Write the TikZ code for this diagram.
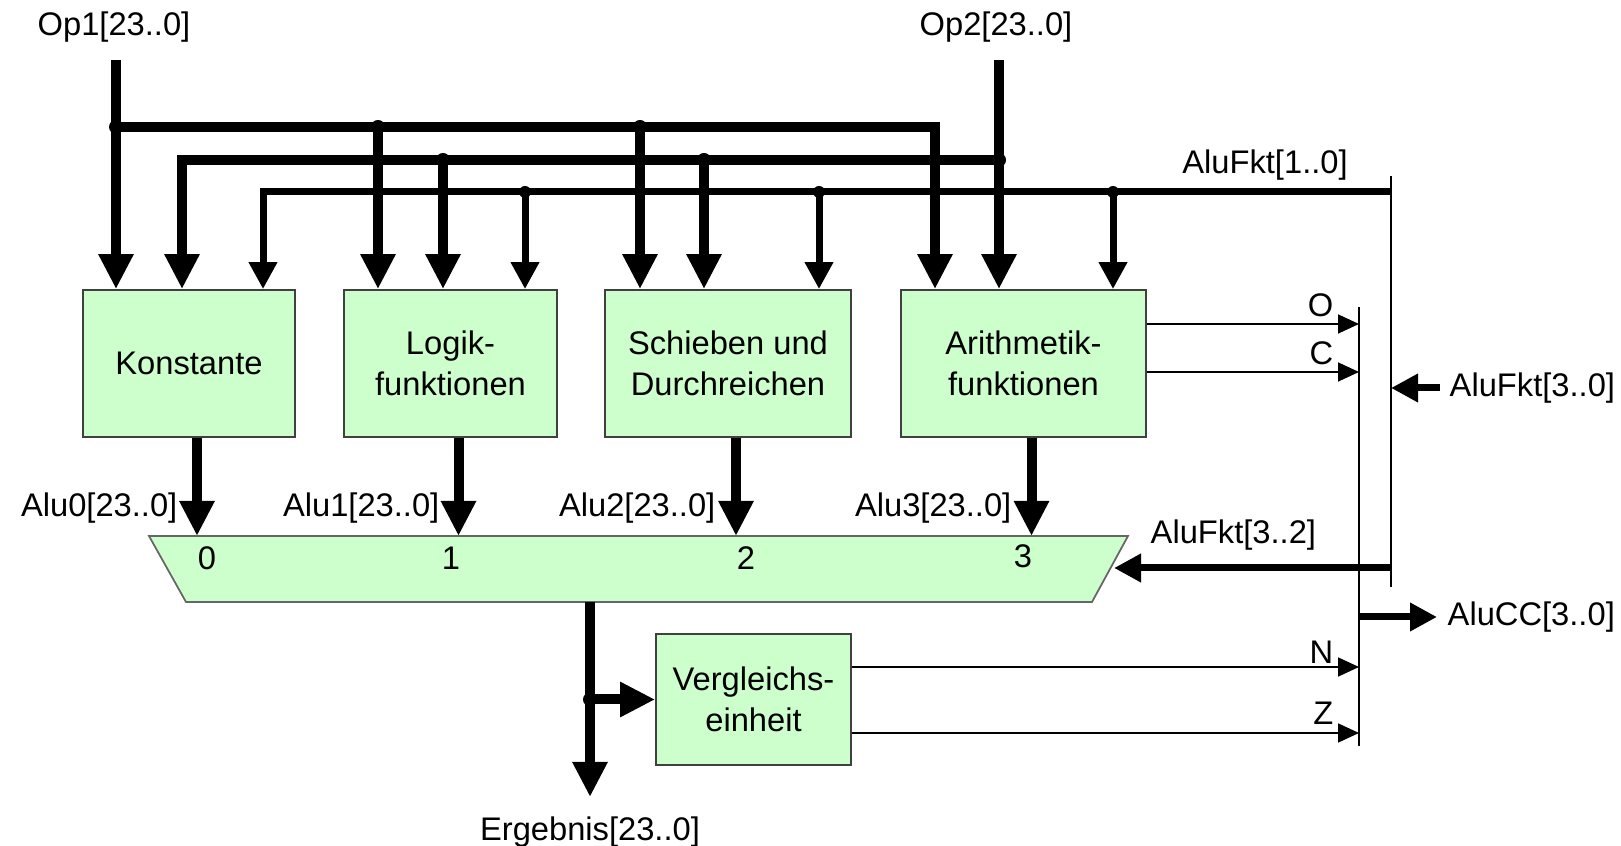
\documentclass[tikz,border=0pt]{standalone}
\usepackage{fontspec}
\setmainfont{Liberation Sans}
\usepackage{tikz}
\usetikzlibrary{arrows.meta, positioning, calc}
\definecolor{alugruen}{HTML}{CCFFCC}

\begin{document}
\begin{tikzpicture}[
  x=0.1mm, y=-0.1mm,
  font=\fontsize{9.3}{11.6}\selectfont,
  block/.style={
    draw=black!75, line width=0.5pt, fill=alugruen,
    align=center, inner sep=0pt
  },
  muxform/.style={draw=black!60, line width=0.5pt, fill=alugruen},
  bus/.style={line width=1mm, draw=black},
  busarrow/.style={bus, -{Triangle[length=3.5mm, width=3.3mm]}},
  ctrl/.style={line width=0.7mm, draw=black},
  ctrlarrow/.style={ctrl, -{Triangle[length=2.7mm, width=2.7mm]}},
  flag/.style={line width=0.5pt, -{Triangle[length=2.1mm, width=1.9mm]}},
  leiste/.style={line width=0.5pt},
  lbl/.style={inner sep=0pt}
]
  \useasboundingbox (0,0) rectangle (1621,846);

  % Funktionsbloecke
  \node[block, minimum width=21.2mm, minimum height=14.7mm] (konst) at (189,363.5) {Konstante};
  \node[block, minimum width=21.3mm, minimum height=14.7mm] (logik) at (450.5,363.5) {Logik-\\funktionen};
  \node[block, minimum width=24.6mm, minimum height=14.7mm] (schieb) at (728,363.5) {Schieben und\\Durchreichen};
  \node[block, minimum width=24.5mm, minimum height=14.7mm] (arith) at (1023.5,363.5) {Arithmetik-\\funktionen};
  \node[block, minimum width=19.5mm, minimum height=13.1mm] (vergl) at (753.5,699.5) {Vergleichs-\\einheit};

  % Multiplexer
  \coordinate (m1) at (149,536);
  \coordinate (m2) at (1128,536);
  \coordinate (m3) at (1092,602);
  \coordinate (m4) at (186,602);
  \filldraw[muxform] (m1) -- (m2) -- (m3) -- (m4) -- cycle;
  \node[lbl] (n0) at (207,558) {0};
  \node[lbl] (n1) at (451,558) {1};
  \node[lbl] (n2) at (746,558) {2};
  \node[lbl] (n3) at (1023,556) {3};

  % Eingangsbusse
  \coordinate (op1) at (116,60);
  \coordinate (op2) at (999,60);
  \coordinate (b1) at (116,127);
  \coordinate (b2) at (999,160);
  \coordinate (b3) at (1391,192);
  \coordinate (c1) at (935,127);
  \coordinate (c2) at (182,160);
  \coordinate (c3) at (263,192);
  \coordinate (t11) at (378,127);
  \coordinate (t12) at (640,127);
  \coordinate (t21) at (443,160);
  \coordinate (t22) at (704,160);
  \coordinate (t31) at (525,192);
  \coordinate (t32) at (819,192);
  \coordinate (t33) at (1113,192);

  \node[lbl] (op1lbl) at (114,27) {Op1[23..0]};
  \node[lbl] (op2lbl) at (996,27) {Op2[23..0]};
  \node[lbl] (fkt10) at (1265,165) {AluFkt[1..0]};

  \draw[busarrow] (op1) -- (op1 |- konst.north);
  \draw[busarrow] (op2) -- (op2 |- arith.north);
  \draw[busarrow] (b1) -- (c1) -- (c1 |- arith.north);
  \draw[busarrow] (b2) -- (c2) -- (c2 |- konst.north);
  \draw[ctrlarrow] (b3) -- (c3) -- (c3 |- konst.north);
  \foreach \t/\z in {t11/logik, t12/schieb, t21/logik, t22/schieb}
    \draw[busarrow] (\t) -- (\t |- \z.north);
  \foreach \t/\z in {t31/logik, t32/schieb, t33/arith}
    \draw[ctrlarrow] (\t) -- (\t |- \z.north);

  \foreach \p in {b1, b2, t11, t12, t21, t22}
    \fill (\p) circle (0.7mm);
  \foreach \p in {t31, t32, t33}
    \fill (\p) circle (0.6mm);

  % Ausgaenge zum Multiplexer
  \node[lbl, anchor=east] (alu0) at (178,508) {Alu0[23..0]};
  \node[lbl, anchor=east] (alu1) at (440,508) {Alu1[23..0]};
  \node[lbl, anchor=east] (alu2) at (716,508) {Alu2[23..0]};
  \node[lbl, anchor=east] (alu3) at (1012,508) {Alu3[23..0]};
  \foreach \z in {konst, logik, schieb, arith}
    \draw[busarrow] ([xshift=0.8mm]\z.south) -- ([xshift=0.8mm]\z.south |- m1);

  % Ergebnis und Vergleich
  \coordinate (mout) at (590,602);
  \coordinate (eout) at (590,797);
  \node[lbl] (erg) at (590,832) {Ergebnis[23..0]};
  \draw[busarrow] (mout) -- (eout);
  \draw[busarrow] (mout |- vergl.west) -- (vergl.west);
  \fill (mout |- vergl.west) circle (0.7mm);

  % Steuerleisten rechts
  \coordinate (s1top) at (1391,176);
  \coordinate (s1bot) at (1391,587);
  \coordinate (s2top) at (1359,307);
  \coordinate (s2bot) at (1359,746);
  \draw[leiste] (s1top) -- (s1bot);
  \draw[leiste] (s2top) -- (s2bot);
  \draw[bus] (b3) -- (s1top |- b3);

  \node[lbl, anchor=west] (fkt30) at (1449,388) {AluFkt[3..0]};
  \draw[ctrlarrow] ([xshift=-0.9mm]fkt30.west) -- (fkt30.west -| s1top);

  \coordinate (f32) at (1391,568);
  \coordinate (muxr) at (1114,568);
  \node[lbl, anchor=west] (fkt32) at (1150,535) {AluFkt[3..2]};
  \draw[ctrlarrow] (f32) -- (muxr);

  \node[lbl, anchor=west] (alucc) at (1447,617) {AluCC[3..0]};
  \coordinate (cc) at (1359,617);
  \draw[ctrlarrow] (cc) -- ([xshift=-1mm]alucc.west);

  % Flags
  \draw[flag] ([yshift=3.95mm]arith.east) -- ([yshift=3.95mm]arith.east -| s2top);
  \draw[flag] ([yshift=-0.85mm]arith.east) -- ([yshift=-0.85mm]arith.east -| s2top);
  \draw[flag] ([yshift=3.25mm]vergl.east) -- ([yshift=3.25mm]vergl.east -| s2top);
  \draw[flag] ([yshift=-3.35mm]vergl.east) -- ([yshift=-3.35mm]vergl.east -| s2top);
  \node[lbl, anchor=east] (oflag) at (1334,305) {O};
  \node[lbl, anchor=east] (cflag) at (1334,353) {C};
  \node[lbl, anchor=east] (nflag) at (1334,652) {N};
  \node[lbl, anchor=east] (zflag) at (1334,713) {Z};

\end{tikzpicture}
\end{document}
